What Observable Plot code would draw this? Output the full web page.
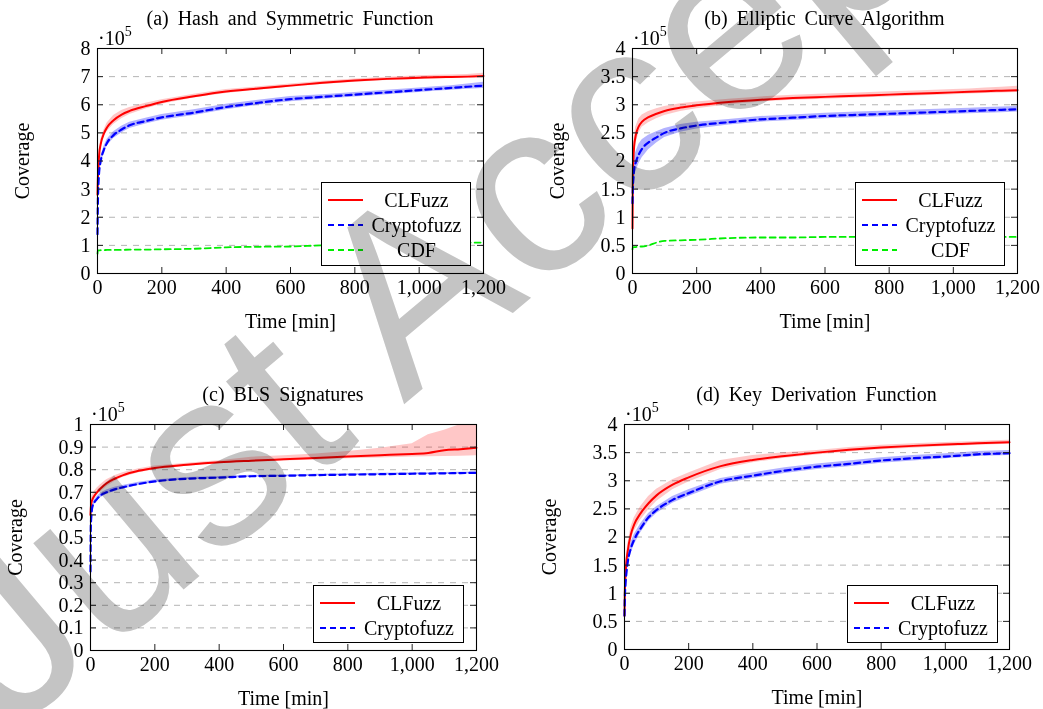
<!DOCTYPE html>
<html>
<head>
<meta charset="utf-8">
<script src="https://cdn.jsdelivr.net/npm/d3@7"></script>
<script src="https://cdn.jsdelivr.net/npm/@observablehq/plot@0.6"></script>
<style>
  html, body { margin: 0; padding: 0; background: #fff; }
  #root { position: relative; width: 1043px; height: 709px; overflow: hidden; isolation: isolate; background: #fff;
          font-family: "Liberation Serif", "Times New Roman", serif; color: #000; }
  .panel { position: absolute; }
  .title { position: absolute; font-size: 20px; word-spacing: 4px; transform: translateX(-50%); white-space: nowrap; line-height: 1; }
  .mult { position: absolute; font-size: 20px; line-height: 1; white-space: nowrap; }
  .mult sup { font-size: 14px; vertical-align: 0; position: relative; top: -9px; }
  .legend { position: absolute; border: 1px solid #000; background: #fff; box-sizing: border-box; padding: 4px 0 0 0; font-size: 20px; }
  .legend .row { display: flex; align-items: center; height: 25px; }
  .legend svg { margin-left: 6px; flex: none; }
  .legend span { flex: 1; text-align: center; line-height: 1; }
  #wm { position: absolute; left: 0; top: 0; mix-blend-mode: multiply; pointer-events: none; }
</style>
</head>
<body>
<div id="root"></div>
<script>
// ---- data (coverage in units of 10^5) ----
const times = [0, 1, 3, 5, 10, 20, 30, 50, 75, 100, 150, 200, 300, 400, 500, 600, 700, 800, 900, 1000, 1050, 1100, 1150, 1200];
const xTicks = [0, 200, 400, 600, 800, 1000, 1200];

// (a) Hash and Symmetric Function
const aClfuzz   = [2.8, 3.3, 3.8, 4.2, 4.6, 4.98, 5.2, 5.45, 5.65, 5.78, 5.95, 6.1, 6.3, 6.47, 6.58, 6.68, 6.78, 6.86, 6.92, 6.96, 6.98, 6.99, 7.0, 7.02];
const aClfuzzLo = [2.6, 3.1, 3.6, 4.0, 4.45, 4.85, 5.05, 5.3, 5.5, 5.65, 5.85, 6.02, 6.24, 6.4, 6.52, 6.62, 6.72, 6.8, 6.86, 6.9, 6.92, 6.93, 6.94, 6.95];
const aClfuzzHi = [3.0, 3.5, 4.0, 4.4, 4.75, 5.1, 5.35, 5.62, 5.8, 5.9, 6.05, 6.18, 6.37, 6.54, 6.64, 6.74, 6.84, 6.92, 6.98, 7.03, 7.05, 7.06, 7.08, 7.12];
const aCrypto   = [1.4, 2.4, 3.2, 3.6, 4.0, 4.4, 4.65, 4.92, 5.12, 5.27, 5.42, 5.55, 5.72, 5.92, 6.07, 6.2, 6.28, 6.36, 6.44, 6.52, 6.56, 6.6, 6.64, 6.68];
const aCryptoLo = [1.2, 2.2, 3.0, 3.4, 3.85, 4.28, 4.53, 4.8, 5.0, 5.16, 5.32, 5.45, 5.62, 5.82, 5.98, 6.11, 6.2, 6.28, 6.36, 6.44, 6.48, 6.52, 6.55, 6.58];
const aCryptoHi = [1.6, 2.6, 3.4, 3.8, 4.15, 4.52, 4.77, 5.04, 5.24, 5.38, 5.52, 5.65, 5.82, 6.02, 6.16, 6.29, 6.36, 6.44, 6.52, 6.6, 6.64, 6.68, 6.74, 6.8];
const aCdf      = [0.7, 0.8, 0.82, 0.82, 0.83, 0.83, 0.84, 0.84, 0.84, 0.85, 0.85, 0.86, 0.88, 0.93, 0.95, 0.96, 1.0, 1.01, 1.02, 1.04, 1.06, 1.08, 1.1, 1.1];
const aYTicks = [0, 1, 2, 3, 4, 5, 6, 7, 8];

// (b) Elliptic Curve Algorithm
const bClfuzz   = [0.8, 1.7, 2.05, 2.25, 2.45, 2.62, 2.7, 2.78, 2.84, 2.89, 2.95, 2.99, 3.05, 3.09, 3.12, 3.14, 3.16, 3.18, 3.2, 3.22, 3.23, 3.24, 3.25, 3.26];
const bClfuzzLo = [0.7, 1.5, 1.9, 2.1, 2.3, 2.5, 2.6, 2.68, 2.75, 2.81, 2.88, 2.93, 3.0, 3.05, 3.08, 3.1, 3.12, 3.14, 3.16, 3.18, 3.19, 3.2, 3.21, 3.22];
const bClfuzzHi = [0.9, 1.9, 2.2, 2.4, 2.6, 2.75, 2.82, 2.88, 2.93, 2.97, 3.02, 3.05, 3.1, 3.14, 3.17, 3.19, 3.21, 3.23, 3.25, 3.27, 3.28, 3.3, 3.31, 3.33];
const bCrypto   = [1.25, 1.5, 1.7, 1.85, 1.97, 2.12, 2.22, 2.33, 2.42, 2.5, 2.58, 2.63, 2.69, 2.74, 2.77, 2.8, 2.82, 2.84, 2.86, 2.88, 2.89, 2.9, 2.91, 2.92];
const bCryptoLo = [1.15, 1.35, 1.52, 1.65, 1.8, 1.95, 2.06, 2.2, 2.32, 2.42, 2.51, 2.57, 2.64, 2.69, 2.72, 2.75, 2.77, 2.79, 2.81, 2.83, 2.84, 2.85, 2.86, 2.87];
const bCryptoHi = [1.35, 1.65, 1.88, 2.05, 2.15, 2.3, 2.38, 2.46, 2.52, 2.58, 2.65, 2.69, 2.74, 2.79, 2.82, 2.85, 2.87, 2.89, 2.91, 2.93, 2.94, 2.95, 2.96, 2.97];
const bCdf      = [0.43, 0.47, 0.47, 0.47, 0.47, 0.48, 0.48, 0.5, 0.55, 0.58, 0.59, 0.6, 0.63, 0.64, 0.64, 0.65, 0.65, 0.65, 0.65, 0.65, 0.65, 0.65, 0.65, 0.65];
const bYTicks = [0, 0.5, 1, 1.5, 2, 2.5, 3, 3.5, 4];

// (c) BLS Signatures
const cClfuzz   = [0.6, 0.63, 0.655, 0.665, 0.68, 0.7, 0.715, 0.74, 0.76, 0.775, 0.795, 0.808, 0.822, 0.833, 0.84, 0.846, 0.852, 0.858, 0.864, 0.87, 0.874, 0.886, 0.891, 0.897];
const cClfuzzLo = [0.58, 0.61, 0.635, 0.645, 0.66, 0.685, 0.7, 0.725, 0.748, 0.765, 0.787, 0.8, 0.815, 0.826, 0.833, 0.838, 0.843, 0.848, 0.852, 0.856, 0.857, 0.858, 0.86, 0.862];
const cClfuzzHi = [0.62, 0.65, 0.675, 0.685, 0.7, 0.718, 0.732, 0.755, 0.773, 0.787, 0.804, 0.816, 0.829, 0.84, 0.855, 0.862, 0.87, 0.88, 0.895, 0.915, 0.955, 0.975, 1.0, 1.0];
const cCrypto   = [0.35, 0.55, 0.6, 0.63, 0.65, 0.67, 0.685, 0.7, 0.713, 0.722, 0.737, 0.748, 0.76, 0.765, 0.771, 0.773, 0.776, 0.778, 0.78, 0.782, 0.783, 0.784, 0.785, 0.786];
const cCryptoLo = [0.33, 0.53, 0.59, 0.62, 0.64, 0.66, 0.675, 0.69, 0.704, 0.714, 0.73, 0.742, 0.755, 0.76, 0.767, 0.769, 0.772, 0.774, 0.776, 0.778, 0.779, 0.78, 0.781, 0.782];
const cCryptoHi = [0.37, 0.57, 0.61, 0.64, 0.66, 0.68, 0.695, 0.71, 0.722, 0.73, 0.744, 0.754, 0.765, 0.77, 0.775, 0.777, 0.78, 0.782, 0.784, 0.786, 0.787, 0.788, 0.789, 0.79];
const cYTicks = [0, 0.1, 0.2, 0.3, 0.4, 0.5, 0.6, 0.7, 0.8, 0.9, 1];

// (d) Key Derivation Function
const dClfuzz   = [0.6, 1.0, 1.3, 1.5, 1.75, 2.05, 2.22, 2.42, 2.6, 2.74, 2.93, 3.06, 3.26, 3.37, 3.44, 3.5, 3.55, 3.59, 3.62, 3.645, 3.655, 3.665, 3.675, 3.685];
const dClfuzzLo = [0.5, 0.9, 1.18, 1.38, 1.63, 1.93, 2.1, 2.3, 2.48, 2.63, 2.84, 2.98, 3.2, 3.32, 3.4, 3.46, 3.51, 3.55, 3.58, 3.61, 3.62, 3.63, 3.64, 3.65];
const dClfuzzHi = [0.7, 1.1, 1.42, 1.62, 1.87, 2.17, 2.34, 2.54, 2.72, 2.85, 3.02, 3.14, 3.36, 3.45, 3.5, 3.54, 3.59, 3.63, 3.66, 3.68, 3.69, 3.7, 3.71, 3.72];
const dCrypto   = [0.6, 0.9, 1.15, 1.3, 1.55, 1.8, 1.95, 2.15, 2.35, 2.48, 2.66, 2.78, 2.99, 3.09, 3.18, 3.25, 3.3, 3.36, 3.4, 3.43, 3.45, 3.47, 3.48, 3.49];
const dCryptoLo = [0.5, 0.8, 1.05, 1.2, 1.45, 1.7, 1.86, 2.07, 2.28, 2.42, 2.6, 2.72, 2.94, 3.04, 3.13, 3.2, 3.25, 3.31, 3.35, 3.39, 3.41, 3.43, 3.44, 3.45];
const dCryptoHi = [0.7, 1.0, 1.25, 1.4, 1.65, 1.9, 2.04, 2.23, 2.42, 2.54, 2.72, 2.84, 3.04, 3.14, 3.23, 3.3, 3.35, 3.41, 3.45, 3.48, 3.5, 3.52, 3.53, 3.54];
const dYTicks = [0, 0.5, 1, 1.5, 2, 2.5, 3, 3.5, 4];

const seriesStyle = {
  CLFuzz:     {color: "#ff0000", dash: null,  width: 2,   bandOpacity: 0.22},
  Cryptofuzz: {color: "#0000ff", dash: "6,4", width: 2.2, bandOpacity: 0.3},
  CDF:        {color: "#00ee00", dash: "6,4", width: 1.8, bandOpacity: 0}
};

const panels = [
  {title: "(a) Hash and Symmetric Function", left: 0, top: 0, width: 520, height: 340,
   ml: 97, mr: 37, mt: 48, mb: 67, yTicks: aYTicks,
   series: [["CLFuzz", aClfuzz, aClfuzzLo, aClfuzzHi], ["Cryptofuzz", aCrypto, aCryptoLo, aCryptoHi], ["CDF", aCdf]],
   legend: {x: 321, y: 182, w: 150, h: 84}},
  {title: "(b) Elliptic Curve Algorithm", left: 520, top: 0, width: 523, height: 340,
   ml: 112, mr: 26, mt: 48, mb: 67, yTicks: bYTicks,
   series: [["CLFuzz", bClfuzz, bClfuzzLo, bClfuzzHi], ["Cryptofuzz", bCrypto, bCryptoLo, bCryptoHi], ["CDF", bCdf]],
   legend: {x: 855, y: 182, w: 150, h: 84}},
  {title: "(c) BLS Signatures", left: 0, top: 380, width: 520, height: 329,
   ml: 90, mr: 44, mt: 44, mb: 59, yTicks: cYTicks,
   series: [["CLFuzz", cClfuzz, cClfuzzLo, cClfuzzHi], ["Cryptofuzz", cCrypto, cCryptoLo, cCryptoHi]],
   legend: {x: 313, y: 585, w: 151, h: 58}},
  {title: "(d) Key Derivation Function", left: 520, top: 380, width: 523, height: 329,
   ml: 104, mr: 34, mt: 44, mb: 60, yTicks: dYTicks,
   series: [["CLFuzz", dClfuzz, dClfuzzLo, dClfuzzHi], ["Cryptofuzz", dCrypto, dCryptoLo, dCryptoHi]],
   legend: {x: 847, y: 585, w: 151, h: 58}}
];

const root = document.getElementById("root");
const fmtX = d3.format(",");
const fmtY = d3.format("~g");

for (const p of panels) {
  const plotW = p.width - p.ml - p.mr;
  const plotH = p.height - p.mt - p.mb;
  const yMax = p.yTicks[p.yTicks.length - 1];
  const marks = [
    Plot.gridY(p.yTicks.slice(1, -1), {stroke: "#b4b4b4", strokeOpacity: 1, strokeWidth: 1, strokeDasharray: "6,6"})
  ];
  for (const [name, mean, lo, hi] of p.series) {
    const st = seriesStyle[name];
    if (lo && hi) {
      const band = times.map((t, i) => ({t, lo: lo[i], hi: hi[i]}));
      marks.push(Plot.areaY(band, {x: "t", y1: "lo", y2: "hi", fill: st.color, fillOpacity: st.bandOpacity}));
    }
  }
  for (const [name, mean] of p.series) {
    const st = seriesStyle[name];
    const rows = times.map((t, i) => ({t, v: mean[i]}));
    marks.push(Plot.line(rows, {x: "t", y: "v", stroke: st.color, strokeWidth: st.width,
      strokeDasharray: st.dash || undefined, curve: "monotone-x"}));
  }
  marks.push(
    Plot.tickX(xTicks, {x: d => d, insetTop: plotH - 6, stroke: "#222"}),
    Plot.tickX(xTicks, {x: d => d, insetBottom: plotH - 6, stroke: "#222"}),
    Plot.tickY(p.yTicks, {y: d => d, insetRight: plotW - 6, stroke: "#222"}),
    Plot.tickY(p.yTicks, {y: d => d, insetLeft: plotW - 6, stroke: "#222"}),
    Plot.frame({stroke: "#000", strokeWidth: 1.1}),
    Plot.axisX(xTicks, {tickSize: 0, tickPadding: 6, tickFormat: fmtX, label: "Time [min]",
      labelAnchor: "center", labelArrow: "none", labelOffset: 54}),
    Plot.axisY(p.yTicks, {tickSize: 0, tickPadding: 7, tickFormat: fmtY, label: "Coverage",
      labelAnchor: "center", labelArrow: "none", labelOffset: 83})
  );
  const svg = Plot.plot({
    width: p.width, height: p.height,
    marginLeft: p.ml, marginRight: p.mr, marginTop: p.mt, marginBottom: p.mb,
    style: {fontFamily: "'Liberation Serif', 'Times New Roman', serif", fontSize: "20px", color: "#000",
            background: "transparent", overflow: "visible"},
    x: {domain: [0, 1200]},
    y: {domain: [0, yMax]},
    marks
  });
  svg.classList.add("panel");
  svg.style.left = p.left + "px";
  svg.style.top = p.top + "px";
  root.appendChild(svg);

  const title = document.createElement("div");
  title.className = "title";
  title.textContent = p.title;
  title.style.left = (p.left + p.ml + plotW / 2) + "px";
  title.style.top = (p.top + p.mt - 40) + "px";
  root.appendChild(title);

  const mult = document.createElement("div");
  mult.className = "mult";
  mult.innerHTML = "·10<sup>5</sup>";
  mult.style.left = (p.left + p.ml + 1) + "px";
  mult.style.top = (p.top + p.mt - 20) + "px";
  root.appendChild(mult);

  const lg = document.createElement("div");
  lg.className = "legend";
  lg.style.left = p.legend.x + "px";
  lg.style.top = p.legend.y + "px";
  lg.style.width = p.legend.w + "px";
  lg.style.height = p.legend.h + "px";
  for (const [name] of p.series) {
    const st = seriesStyle[name];
    const row = document.createElement("div");
    row.className = "row";
    row.innerHTML = `<svg width="35" height="6"><line x1="0" y1="3" x2="35" y2="3" stroke="${st.color}" stroke-width="${st.width}" ${st.dash ? `stroke-dasharray="${st.dash}"` : ""}/></svg><span>${name}</span>`;
    lg.appendChild(row);
  }
  root.appendChild(lg);
}

// watermark
const wmText = "Just Accepted";
const ns = "http://www.w3.org/2000/svg";
const wm = document.createElementNS(ns, "svg");
wm.setAttribute("id", "wm");
wm.setAttribute("width", 1043);
wm.setAttribute("height", 709);
const wx = 10, wy = 735;
const t = document.createElementNS(ns, "text");
t.setAttribute("x", wx);
t.setAttribute("y", wy);
t.setAttribute("transform", `rotate(-40 ${wx} ${wy})`);
t.setAttribute("font-family", "'Liberation Sans', Arial, sans-serif");
t.setAttribute("font-size", 250);
t.setAttribute("fill", "#c4c4c4");
t.textContent = wmText;
wm.appendChild(t);
root.appendChild(wm);
</script>
</body>
</html>
